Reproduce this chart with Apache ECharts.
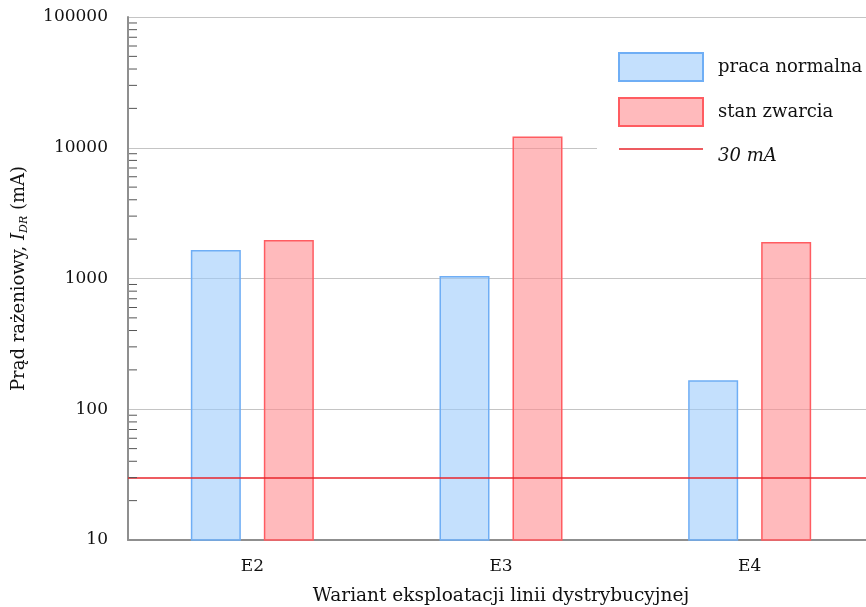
<!DOCTYPE html>
<html>
<head>
<meta charset="utf-8">
<script src="https://cdn.jsdelivr.net/npm/echarts@6/dist/echarts.min.js"></script>
<style>
  html, body { margin: 0; padding: 0; background: #fff; }
  #chart { width: 866px; height: 607px; }
</style>
</head>
<body>
<div id="chart"></div>
<script>
// dane
const categories = ['E2', 'E3', 'E4']
const pracaNormalna = [1650, 1045, 167]
const stanZwarcia = [1970, 12200, 1900]
const prog = 30 // 30 mA
// drobne podziałki osi logarytmicznej
const minorTicks = [
  20, 30, 40, 50, 60, 70, 80, 90,
  200, 300, 400, 500, 600, 700, 800, 900,
  2000, 3000, 4000, 5000, 6000, 7000, 8000, 9000,
  20000, 30000, 40000, 50000, 60000, 70000, 80000, 90000
]

const FONT = 'DejaVu Serif'
const RED_LINE = '#e8262c'
// ikona legendy: cienka pozioma linia w polu 84x28 (nieco powyżej środka)
const lineIcon = 'path://M0,0L0.01,0M0,6.25L84,6.25L84,7.75L0,7.75ZM0,28L0.01,28'

const chart = echarts.init(document.getElementById('chart'))

chart.setOption({
  animation: false,
  textStyle: { fontFamily: FONT },
  grid: { left: 128, right: -8, top: 17, bottom: 67, containLabel: false, outerBoundsMode: 'none' },
  legend: {
    orient: 'vertical',
    left: 597,
    top: 29,
    padding: [23, 6, 12, 21],
    backgroundColor: '#fff',
    itemWidth: 84,
    itemHeight: 28,
    itemGap: 15,
    textStyle: { fontFamily: FONT, fontSize: 18, color: '#111', padding: [0, 0, 0, 10] },
    data: [
      { name: 'praca normalna', icon: 'rect' },
      { name: 'stan zwarcia', icon: 'rect' },
      {
        name: '30 mA',
        icon: lineIcon,
        itemStyle: { color: RED_LINE, borderWidth: 0 },
        textStyle: { fontStyle: 'italic' }
      }
    ]
  },
  xAxis: {
    type: 'category',
    data: categories,
    axisLine: { lineStyle: { color: '#8f8f8f', width: 2 } },
    axisTick: { show: false },
    axisLabel: { color: '#111', fontSize: 17, fontFamily: FONT, margin: 18 },
    name: 'Wariant eksploatacji linii dystrybucyjnej',
    nameLocation: 'middle',
    nameGap: 47,
    nameTextStyle: { color: '#111', fontSize: 18.5, fontFamily: FONT }
  },
  yAxis: {
    type: 'log',
    logBase: 10,
    min: 10,
    max: 100000,
    axisLine: { show: true, lineStyle: { color: '#8f8f8f', width: 2 } },
    axisTick: { show: false },
    axisLabel: {
      color: '#111', fontSize: 17, fontFamily: FONT, margin: 20,
      formatter: v => String(Math.round(v))
    },
    splitLine: { show: true, lineStyle: { color: '#c4c4c4', width: 1.2 } },
    name: '{n|Prąd rażeniowy, }{i|I}{s|DR}{n| (mA)}',
    nameLocation: 'middle',
    nameGap: 98,
    nameTextStyle: {
      rich: {
        n: { fontSize: 18, fontFamily: FONT, color: '#111' },
        i: { fontSize: 18, fontFamily: FONT, fontStyle: 'italic', color: '#111' },
        s: { fontSize: 11, fontFamily: FONT, fontStyle: 'italic', color: '#111', padding: [11, 0, 0, 0] }
      }
    }
  },
  series: [
    {
      name: 'praca normalna',
      type: 'bar',
      data: pracaNormalna,
      barWidth: 50,
      barGap: '46%',
      itemStyle: { color: 'rgba(157,203,252,0.6)', borderColor: '#6faef5', borderWidth: 1.5 }
    },
    {
      name: 'stan zwarcia',
      type: 'bar',
      data: stanZwarcia,
      barWidth: 50,
      itemStyle: { color: 'rgba(255,140,144,0.6)', borderColor: '#ff5c61', borderWidth: 1.5 }
    },
    {
      name: '30 mA',
      type: 'line',
      data: [],
      symbol: 'none',
      lineStyle: { color: RED_LINE, width: 1.5 },
      itemStyle: { color: RED_LINE },
      markLine: {
        silent: true,
        symbol: 'none',
        label: { show: false },
        lineStyle: { color: RED_LINE, width: 1.5, type: 'solid' },
        data: [{ yAxis: prog }]
      }
    },
    {
      // drobne podziałki osi Y (wewnątrz)
      type: 'custom',
      silent: true,
      z: 5,
      clip: false,
      data: minorTicks.map(v => [0, v]),
      renderItem: (params, api) => {
        const p = api.coord([0, api.value(1)])
        const x0 = params.coordSys.x + 1
        return {
          type: 'line',
          shape: { x1: x0, y1: p[1], x2: x0 + 8, y2: p[1] },
          style: { stroke: '#555', lineWidth: 1 }
        }
      }
    }
  ]
})
</script>
</body>
</html>
